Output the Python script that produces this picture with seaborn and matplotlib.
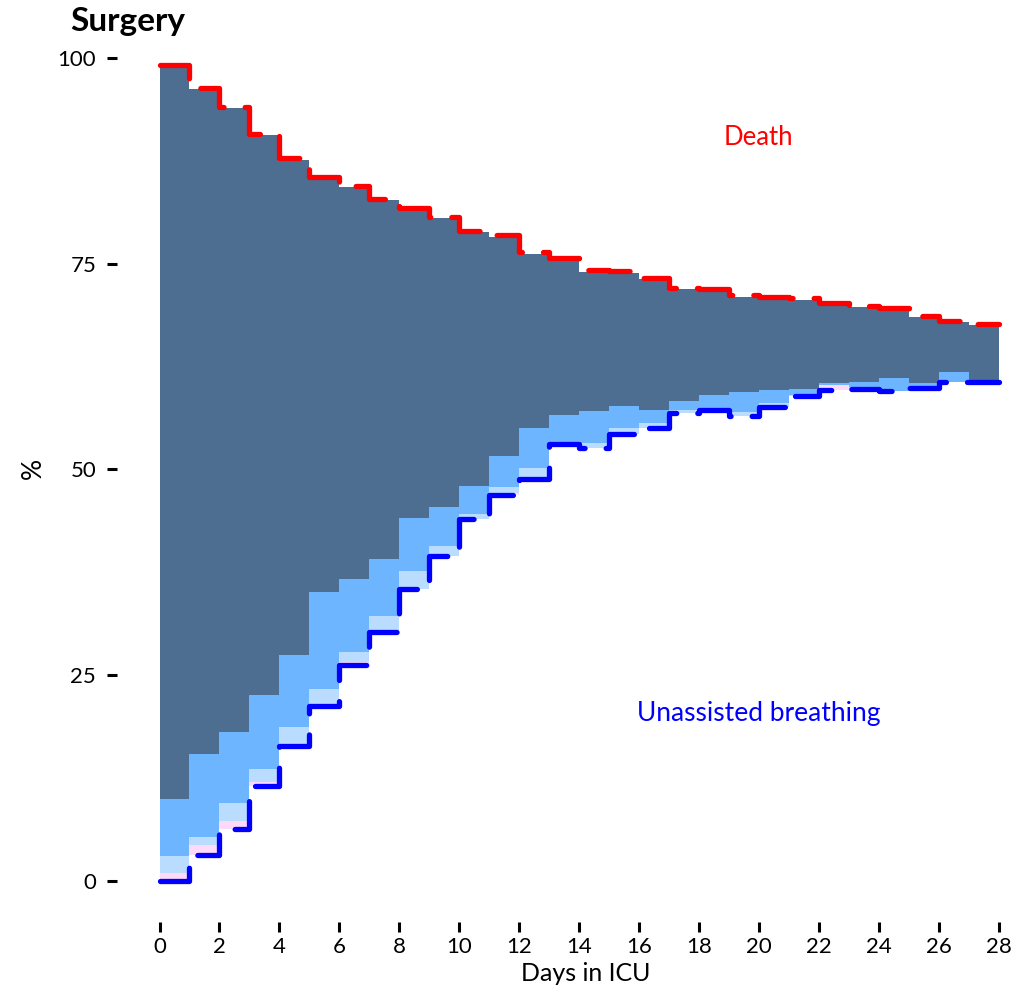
import numpy as np
import pandas as pd
import matplotlib
matplotlib.use("Agg")
import matplotlib.pyplot as plt
import seaborn as sns

# ---- data ----
days = list(range(0, 28))
# percentage breathing unaided (blue boundary)
unassisted = [0.0, 3.2, 6.3, 11.6, 16.4, 21.3, 26.2, 30.3, 35.5, 39.5,
              44.0, 46.9, 48.9, 53.1, 52.6, 54.3, 55.1, 56.9, 57.2, 56.5,
              57.6, 58.9, 59.7, 59.8, 59.5, 59.9, 60.6, 60.6]
# thin pink band above it
pink_band = [1.0, 1.2, 1.0, 0.4, 0.1, 0.0, 0.4, 0.0, 0.0, 0.0,
             0.0, 0.2, 0.1, 0.0, 0.0, 0.0, 0.0, 0.0, 0.0, 0.0,
             0.0, 0.0, 0.6, 0.0, 0.0, 0.0, 0.0, 0.0]
# pale blue band
pale_band = [2.0, 0.9, 2.2, 1.6, 2.2, 2.0, 1.2, 1.9, 2.2, 1.2,
             0.6, 0.8, 1.2, 0.0, 0.6, 0.7, 0.5, 0.3, 0.3, 0.5,
             0.5, 0.1, 0.0, 0.2, 0.0, 0.2, 0.0, 0.0]
# top of the light blue band (= bottom of the dark band)
dark_bottom = [10.0, 15.4, 18.1, 22.6, 27.5, 35.1, 36.7, 39.1, 44.1, 45.4,
               48.0, 51.6, 55.1, 56.6, 57.1, 57.7, 57.2, 58.3, 59.1, 59.4,
               59.7, 59.8, 60.5, 60.6, 61.1, 60.5, 61.8, 60.9]
# top of the stack (100 - death), red boundary
alive_top = [99.0, 96.2, 93.9, 90.6, 87.6, 85.4, 84.3, 82.7, 81.6, 80.5,
             78.8, 78.3, 76.2, 75.5, 74.0, 73.9, 73.1, 71.9, 71.7, 71.0,
             70.8, 70.6, 70.0, 69.7, 69.4, 68.5, 67.9, 67.5]
x_ticks = list(range(0, 29, 2))
y_ticks = [0, 25, 50, 75, 100]

sns.set_theme(style="white")
plt.rcParams['font.family'] = ['Lato', 'DejaVu Sans']

W, H = 1036, 994
fig = plt.figure(figsize=(W / 100, H / 100), dpi=100)
px_l, px_r, px_b, px_t = 117, 1030, 922, 40
ax = fig.add_axes([px_l / W, 1 - px_b / H, (px_r - px_l) / W, (px_b - px_t) / H])

x0px, xpd = 159.5, (999 - 159.5) / 28
y0px, ypu = 881, (881 - 58) / 100
ax.set_xlim((px_l - x0px) / xpd, (px_r - x0px) / xpd)
ax.set_ylim(-(px_b - y0px) / ypu, (y0px - px_t) / ypu)


def ext(a):
    a = np.asarray(a, dtype=float)
    return np.append(a, a[-1])


x = np.array(days + [28], dtype=float)
u = ext(unassisted)
p = u + ext(pink_band)
q = p + ext(pale_band)
d = ext(dark_bottom)
t = ext(alive_top)

ax.fill_between(x, u, p, step='post', color='#FFD9F8', lw=0)
ax.fill_between(x, p, q, step='post', color='#B9DCFF', lw=0)
ax.fill_between(x, q, d, step='post', color='#6DB6FF', lw=0)
ax.fill_between(x, d, t, step='post', color='#4E6E91', lw=0)

df = pd.DataFrame({'day': x, 'unassisted': u, 'alive': t + 0.2})
for col, colr in [('alive', '#FF0000'), ('unassisted', '#0000FF')]:
    sns.lineplot(data=df, x='day', y=col, ax=ax, color=colr, lw=3.8,
                 drawstyle='steps-post', errorbar=None)
    ln = ax.lines[-1]
    ln.set_dashes([8, 4])
    ln.set_dash_capstyle('round')
    ln.set_dash_joinstyle('round')

for s in ax.spines.values():
    s.set_visible(False)

ax.set_xticks(x_ticks)
ax.set_yticks(y_ticks)
ax.tick_params(axis='both', bottom=True, left=True, length=7, width=2.2,
               color='black', labelsize=16, labelcolor='black')
ax.tick_params(axis='y', pad=8)
ax.tick_params(axis='x', pad=4)

ax.set_xlabel('Days in ICU', fontsize=18, color='black')
ax.set_ylabel('%', fontsize=19, color='black')
ax.xaxis.set_label_coords((586 - px_l) / (px_r - px_l), -(981 - px_b) / (px_b - px_t))
ax.yaxis.set_label_coords(-(px_l - 33) / (px_r - px_l), (px_b - 468) / (px_b - px_t))
ax.xaxis.label.set_va('baseline')
ax.yaxis.label.set_va('center')

ax.text(19.96, 90.3, 'Death', color='#FF0000', fontsize=18.5, ha='center', va='center')
ax.text(20.0, 20.4, 'Unassisted breathing', color='#0000FF', fontsize=19,
        ha='center', va='center')

fig.text(70 / W, 1 - 22 / H, 'Surgery', fontsize=24, fontweight='bold',
         ha='left', va='center', color='black')

fig.savefig('out.png', dpi=100, facecolor='white')
